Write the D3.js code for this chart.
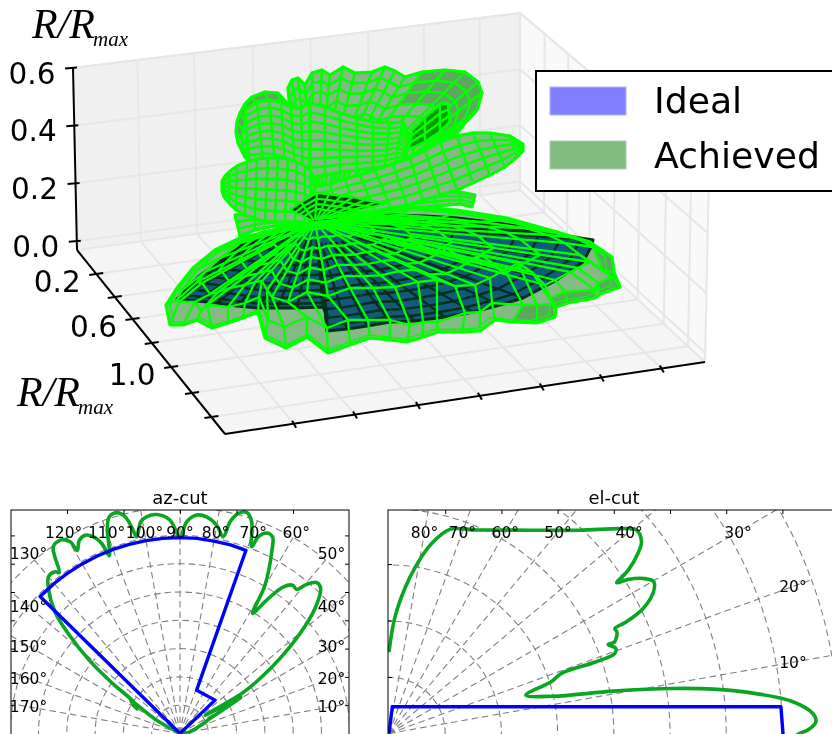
<!DOCTYPE html>
<html><head><meta charset="utf-8">
<script src="https://cdn.jsdelivr.net/npm/d3@7/dist/d3.min.js"></script>
<style>html,body{margin:0;padding:0;background:#fff}svg{display:block;filter:blur(0.35px)}text{font-family:"DejaVu Sans",sans-serif;fill:#000}</style>
</head><body><svg id="c" width="832" height="734"></svg>
<script>
// ---------- data ----------
const zTicks=[0,0.2,0.4,0.6];
const zLabels=["0.0","0.2","0.4","0.6"];
const rTicks=[0.2,0.4,0.6,0.8,1.0,1.2,1.4];
const rLabels=["0.2","","0.6","","1.0","",""];
const legendNames=["Ideal","Achieved"];
const azThetaLabels=[10,20,30,40,50,60,70,80,90,100,110,120,130,140,150,160,170];
const elThetaLabels=[10,20,30,40,50,60,70,80];
const ringValues=[1,2,3,4,5,6,7,8];
// az-cut [theta deg, r]
const azIdeal=[[43.6,0],[43.6,1.71],[69,1.64],[70.2,6.88],[75,6.9],[80,6.9],[85,6.92],[90,6.92],[95,6.92],[100,6.92],[105,6.92],[110,6.92],[115,6.92],[120,6.92],[125,6.92],[130,6.92],[135.6,6.92],[135.6,0]];
const azAchieved=[[135,0.05],[150.3,0.95],[146,2.1],[150.5,1.75],[145.8,1.99],[143.5,2.93],[141.2,4.08],[138.2,5.30],[135.8,6.16],[132.2,6.92],[130,7.23],[127.7,7.22],[126.9,7.11],[125.3,7.65],[124.2,7.97],[121.8,8.04],[119.8,7.81],[119.3,7.42],[117.5,7.70],[115.4,7.76],[113.8,7.60],[112.4,7.26],[111.7,6.76],[109.5,7.69],[108.1,8.05],[106,8.12],[104.2,7.90],[103.2,7.50],[102.4,7.12],[100.5,7.61],[98.7,7.75],[96.1,7.78],[92.7,7.55],[90,6.95],[88.2,7.48],[85.6,7.74],[83,7.71],[80,7.47],[77.6,7.12],[76.7,7.69],[75.2,8.04],[73.2,8.16],[71.3,7.90],[69,7.07],[68.3,7.48],[66.6,7.72],[64.8,7.68],[63.2,7.19],[60.2,6.04],[58.8,4.96],[57,5.62],[54.8,6.34],[52.8,6.58],[51,6.55],[49.9,6.85],[47.8,7.20],[45.9,7.14],[42.8,6.50],[39.8,5.52],[36.9,4.42],[34.5,3.43],[33,2.60],[36,1.1],[30.8,2.5],[27.5,1.34],[9.6,0.36],[0,0.06]];
// el-cut [theta deg, r]
const elIdeal=[[90,0],[83,0.48],[3.9,6.99],[0,7.01],[-1,7.01]];
const elAchieved=[[90,1.45],[87.2,2.05],[83.8,2.59],[80.8,3.03],[77.4,3.46],[73.4,3.79],[66.8,3.94],[55.3,4.40],[46.8,4.96],[41.6,5.49],[39.4,5.70],[37.2,5.64],[35.9,5.47],[34.3,5.15],[33.5,4.86],[32.8,5.06],[31.2,5.32],[29.8,5.43],[28.2,5.34],[26.2,5.04],[25.2,4.67],[24.9,4.43],[24,4.44],[22.1,4.33],[22.1,4.21],[20.6,4.31],[19.5,4.26],[19.1,3.90],[19.2,3.25],[17.7,3.03],[15.7,2.53],[12.8,2.99],[10.7,4.06],[9,5.12],[7.8,5.82],[6.2,6.57],[4.5,7.21],[2.7,7.55],[1.6,7.60],[0.5,7.46],[-0.1,7.28],[-1.4,7.13]];
// 3-D surfaces in view-plane coordinates [u,v] about the pattern's origin
const dishOuter=[[-149,-83],[-145,-103],[-132,-103],[-118,-98],[-103,-106],[-87,-101],[-72,-96],[-57,-90],[-50,-116],[-29,-126],[-8,-115],[13,-131],[35,-123],[55,-116],[75,-118],[92,-120],[108,-115],[123,-110],[147,-110],[165,-109],[180,-98],[197,-100],[222,-101],[240,-95],[241,-85],[253,-81],[280,-76],[285,-72],[305,-65],[299,-50],[297,-35],[275,-20],[242,-10],[192,4],[142,12],[95,15],[-25,-6],[-73,-15],[-100,-28],[-122,-46],[-138,-66]];
const dishLip=[[-138,-78],[-136,-80],[-120,-80],[-114,-89],[-108,-83],[-87,-85],[-70,-81],[-56,-75],[-47,-98],[-31,-105],[-8,-95],[12,-106],[33,-98],[53,-98],[75,-98],[95,-103],[108,-100],[122,-100],[150,-91],[165,-90],[177,-81],[208,-83],[222,-83],[238,-82],[235,-76],[250,-70],[280,-68],[283,-61],[297,-55],[288,-48],[278,-25],[262,-16],[235,-10],[188,2],[142,9],[95,13],[-25,-8],[-72,-18],[-97,-30],[-118,-48],[-133,-68]];
const dishMid=[[-118,-60],[-113,-61],[-105,-72],[-97,-70],[-85,-66],[-70,-63],[-60,-60],[-53,-59],[-48,-68],[-43,-75],[-27,-80],[-8,-70],[13,-74],[35,-66],[58,-66],[80,-65],[103,-60],[122,-58],[140,-64],[160,-63],[175,-56],[190,-48],[203,-41],[217,-50],[230,-63],[240,-58],[255,-50],[263,-46],[275,-40],[265,-33],[250,-21],[233,-13],[210,-6],[165,0],[125,4],[85,7],[-25,-4],[-53,-10],[-75,-21],[-95,-36],[-110,-50]];
const dishRingLevels=[0.1,0.22,0.36,0.5,0.65,0.82];
const idealRim=[[-138,-77],[-118,-79],[-98,-81],[-78,-84],[-57,-86],[-38,-86],[-18,-86],[8,-85],[12,-93],[12,-109],[32,-107],[52,-104],[75,-100],[100,-99],[130,-95],[158,-90],[185,-83],[208,-76],[240,-59],[268,-40],[277,-23],[278,-18],[240,-12],[208,-5],[175,0],[142,4],[110,6],[75,7],[0,0],[-67,-15],[-75,-25],[-96,-40],[-117,-55]];
const idealRingLevels=[0.35,0.5,0.62,0.72,0.8,0.88,0.95];
const upperRim=[[-15,9],[-67,62],[-70,65],[-77,79],[-79,90],[-78,100],[-75,109],[-70,118],[-63,125],[-50,130],[-37,129],[-28,119],[-25,112],[-27,134],[-23,142],[-17,144],[-10,137],[-3,149],[7,152],[15,147],[28,155],[40,149],[57,150],[70,155],[80,151],[90,145],[107,150],[130,152],[150,150],[163,140],[167,129],[162,112],[150,99],[143,90],[125,80],[95,64],[65,42],[25,5]];
const upperRingLevels=[0.12,0.25,0.38,0.5,0.6,0.7,0.78,0.86,0.93,1];
const leftLobeTop=[[-93,41],[-90,46],[-85,51],[-78,56],[-68,60],[-58,63],[-47,64],[-37,64],[-27,63],[-18,60],[-10,56],[-4,50],[0,40]];
const leftLobeBottom=[[-93,31],[-91,25],[-86,19],[-79,12],[-70,7],[-60,3],[-50,1],[-40,0],[-30,0],[-20,0],[-10,0],[-5,0],[0,0]];
const rightLobeTop=[[0,35],[15,38],[30,43],[45,47],[60,52],[78,58],[95,64],[110,72],[125,80],[142,86],[158,89],[175,89],[195,86],[208,78]];
const rightLobeBottom=[[0,0],[25,5],[42,8],[60,11],[76,14],[92,17],[108,22],[125,27],[142,32],[158,39],[175,47],[190,55],[202,65],[208,71]];
const midLobeTop=[[-5,119],[10,115],[25,109],[42,104],[58,100],[75,99],[88,100],[95,85],[92,70]];
const midLobeBottom=[[-5,45],[10,47],[25,50],[42,52],[58,54],[70,56],[80,59],[87,62],[90,64]];
const midLeftTop=[[-70,112],[-58,120],[-46,122],[-34,120],[-24,114],[-14,114],[-5,119]];
const midLeftBottom=[[-66,60],[-52,61],[-40,60],[-30,57],[-20,52],[-12,48],[-5,45]];
const innerLobeTop=[[97,92],[110,105],[125,118],[133,119]];
const innerLobeBottom=[[93,72],[110,80],[125,90],[135,100]];
const frillLeftTop=[[-80,7],[-60,8],[-40,8],[-20,8],[0,6]];
const frillLeftBottom=[[-75,-14],[-60,-8],[-40,-4],[-20,-2],[0,0]];
const frillRightTop=[[60,24],[90,27],[120,30],[145,30],[160,27]];
const frillRightBottom=[[60,8],[90,12],[120,16],[145,18],[157,15]];
const backRim=[[-25,12],[-14,20],[2,29],[14,28],[26,26],[38,25],[50,22],[62,20],[72,19]];

// ---------- page ----------
const svg=d3.select("#c");
const GREEN="#00ff00",FILL="#84ba84";
const SW=2.3;

// 3-D box
const A=[77,250],B=[225,434],C=[705,362],D=[520,190],AT=[73,68],DT=[520,13],CT=[709,173];
const zFrac=d3.scaleLinear().domain([0,0.6]).range([0.048,1]);
const yFrac=d3.scaleLinear().domain(rTicks).range([0.13,0.255,0.375,0.505,0.636,0.777,0.908]);
const xFrac=d3.scaleLinear().domain(rTicks).range([0.144,0.271,0.402,0.531,0.66,0.785,0.91]);
const lerp=(p,q,t)=>[p[0]+(q[0]-p[0])*t,p[1]+(q[1]-p[1])*t];
const g3=svg.append("g");
const poly=d3.line();
g3.append("path").attr("d",poly([A,D,DT,AT])+"Z").attr("fill","#f0f0f0");
g3.append("path").attr("d",poly([A,B,C,D])+"Z").attr("fill","#f5f5f5");
g3.append("path").attr("d",poly([D,C,CT,DT])+"Z").attr("fill","#f9f9f9");
const gridLine=(p,q,w)=>g3.append("line").attr("x1",p[0]).attr("y1",p[1]).attr("x2",q[0]).attr("y2",q[1]).attr("stroke","#e6e6e6").attr("stroke-width",w||2);
zTicks.forEach(z=>{const t=zFrac(z);
  const l=lerp(A,AT,t),b=lerp(D,DT,t),r=lerp(C,CT,t);
  gridLine(l,b);gridLine(b,r);});
rTicks.forEach(x=>{const t=xFrac(x);
  gridLine(lerp(A,D,t),lerp(AT,DT,t));
  gridLine(lerp(A,D,t),lerp(B,C,t));});
rTicks.forEach(y=>{const t=yFrac(y);
  gridLine(lerp(D,C,t),lerp(DT,CT,t));
  gridLine(lerp(A,B,t),lerp(D,C,t));});
gridLine(D,DT);gridLine(AT,DT);gridLine(DT,CT);gridLine(D,C);gridLine(A,D);gridLine(C,CT);

// axes
const axisLine=(p,q)=>g3.append("line").attr("x1",p[0]).attr("y1",p[1]).attr("x2",q[0]).attr("y2",q[1]).attr("stroke","#000").attr("stroke-width",2);
axisLine(AT,A);axisLine(A,B);axisLine(B,C);
const tickText=(x,y,s)=>g3.append("text").attr("x",x).attr("y",y).attr("dy",".36em").attr("text-anchor","middle").attr("font-size",29.5).text(s);
zTicks.forEach((z,i)=>{const p=lerp(A,AT,zFrac(z));
  axisLine([p[0]-8,p[1]+0.5],[p[0]+4,p[1]-0.5]);
  tickText(p[0]-41,p[1]+5,zLabels[i]);});
rTicks.forEach((y,i)=>{const p=lerp(A,B,yFrac(y));
  axisLine([p[0]-7,p[1]+1],[p[0]+7,p[1]-1]);
  if(rLabels[i]) tickText(p[0]-39,p[1]+7,rLabels[i]);});
rTicks.forEach(x=>{const p=lerp(B,C,xFrac(x));axisLine([p[0]-2,p[1]-3],[p[0]+2,p[1]+4]);});

// axis titles
const title3=(x,y,sub)=>{
  g3.append("text").attr("x",x).attr("y",y).style("font-family",'"Liberation Serif",serif').style("font-style","italic").attr("font-size",42).text("R/R");
  g3.append("text").attr("x",x+61).attr("y",y+8).style("font-family",'"Liberation Serif",serif').style("font-style","italic").attr("font-size",21).text(sub);
};
title3(32,38,"max");title3(17,406,"max");

// view plane scales
const uS=d3.scaleLinear().domain([-315,517]).range([0,832]);
const vS=d3.scaleLinear().domain([-512,222]).range([734,0]);
const pl=d3.line().x(d=>uS(d[0])).y(d=>vS(d[1]));
const g=svg.append("g").attr("stroke-linejoin","round");
const scale=(rim,f)=>rim.map(d=>[d[0]*f,d[1]*f]);
const quadPath=(a,b,c,e,fill,w)=>g.append("path").attr("d",pl([a,b,c,e])+"Z").attr("fill",fill).attr("stroke",GREEN).attr("stroke-width",w||SW);
const mix=(p,q,t)=>[p[0]+(q[0]-p[0])*t,p[1]+(q[1]-p[1])*t];
function patch(top,bot,rows,fill){
  for(let i=0;i<top.length-1;i++)for(let j=0;j<rows;j++){
    const t0=j/rows,t1=(j+1)/rows;
    quadPath(mix(top[i],bot[i],t0),mix(top[i+1],bot[i+1],t0),mix(top[i+1],bot[i+1],t1),mix(top[i],bot[i],t1),fill);
  }
  const out=top.concat(bot.slice().reverse());
  g.append("path").attr("d",pl(out)+"Z").attr("fill","none").attr("stroke",GREEN).attr("stroke-width",3);
}
// upper shell
const upperRings=upperRingLevels.map(f=>scale(upperRim,f));
for(let j=2;j<upperRings.length;j++){
  const a=upperRings[j-1],b=upperRings[j];
  for(let i=0;i<upperRim.length-1;i++){
    const right=i>=26, outer=j>=7;
    quadPath(a[i],a[i+1],b[i+1],b[i],right&&outer?"#5ca85c":(i>=4&&i<=11&&j>=9?"#5ca85c":FILL));
  }
}
g.append("path").attr("d",pl(upperRim)).attr("fill","none").attr("stroke",GREEN).attr("stroke-width",3.2);
patch(frillLeftTop,frillLeftBottom,3,FILL);
patch(frillRightTop,frillRightBottom,3,FILL);
patch(innerLobeTop,innerLobeBottom,3,"#0a9a0a");
patch(midLeftTop,midLeftBottom,8,FILL);
patch(midLobeTop,midLobeBottom,8,FILL);
patch(leftLobeTop,leftLobeBottom,6,FILL);
patch(rightLobeTop,rightLobeBottom,5,FILL);

// dark back of the ideal surface
const backRings=[0.45,0.62,0.8,1].map(f=>scale(backRim,f));
g.append("path").attr("d",pl(backRim.concat([[0,0]]))+"Z").attr("fill","#003a10");
backRings.forEach(r=>g.append("path").attr("d",pl(r)).attr("fill","none").attr("stroke",GREEN).attr("stroke-width",SW));
backRim.forEach(d=>g.append("path").attr("d",pl([[0,0],d])).attr("stroke",GREEN).attr("stroke-width",SW));

// dish: band, ideal surface, achieved mesh
g.append("path").attr("d",pl(dishOuter)+"Z").attr("fill",FILL);
[21,22,24,25,27,28,29].forEach(i=>{
  g.append("path").attr("d",pl([dishLip[i],dishLip[i+1],dishOuter[i+1],dishOuter[i]])+"Z").attr("fill","#5ca85c");
});
g.append("path").attr("d",pl(idealRim)+"Z").attr("fill","#125a7c").attr("stroke","#04301a").attr("stroke-width",3).attr("stroke-linejoin","round");
idealRingLevels.forEach(f=>g.append("path").attr("d",pl(scale(idealRim,f))+"Z").attr("fill","none").attr("stroke","#04301a").attr("stroke-width",2.4));
idealRim.forEach(d=>g.append("path").attr("d",pl([scale([d],0.2)[0],d])).attr("stroke","#04301a").attr("stroke-width",2.4));
const dishRings=dishRingLevels.map(f=>scale(dishMid,f)).concat([dishMid,dishLip,scale(dishOuter,0.975),dishOuter]);
dishRings.forEach((r,j)=>g.append("path").attr("d",pl(r)+"Z").attr("fill","none").attr("stroke",GREEN).attr("stroke-width",j==dishRings.length-1?3.2:(j==dishRings.length-2?1.4:SW)));
dishOuter.forEach((d,i)=>{
  const hub=i%2?scale([dishMid[i]],0.36)[0]:[0,0];
  g.append("path").attr("d",pl([hub,dishMid[i],dishLip[i],d])).attr("fill","none").attr("stroke",GREEN).attr("stroke-width",SW);
});

// legend
const lg=svg.append("g");
lg.append("rect").attr("x",536).attr("y",71).attr("width",320).attr("height",120).attr("fill","#fff").attr("stroke","#000").attr("stroke-width",2);
const swatch=["#8080ff","#80bb80"],swEdge=["#b0b0ff","#b0d0b0"];
legendNames.forEach((n,i)=>{
  lg.append("rect").attr("x",550).attr("y",87+54*i).attr("width",76).attr("height",28).attr("fill",swatch[i]).attr("stroke",swEdge[i]);
  lg.append("text").attr("x",654).attr("y",113+55*i).attr("font-size",36.2).text(n);
});

// polar panels
function polar(cfg){
  const p=svg.append("g");
  const id="clip"+cfg.id;
  svg.append("defs").append("clipPath").attr("id",id).append("rect").attr("x",cfg.x0).attr("y",cfg.y0).attr("width",cfg.x1-cfg.x0).attr("height",cfg.y1-cfg.y0);
  const r=d3.scaleLinear().domain([0,1]).range([0,cfg.step]);
  const inner=p.append("g").attr("clip-path",`url(#${id})`).append("g").attr("transform",`translate(${cfg.ox},${cfg.oy})`);
  const dash="6.5 4";
  ringValues.forEach(v=>inner.append("circle").attr("r",r(v)).attr("fill","none").attr("stroke","#808080").attr("stroke-width",1.1).attr("stroke-dasharray",dash));
  const rad=t=>(90-t)*Math.PI/180;
  const lr=d3.lineRadial().angle(d=>rad(d[0])).radius(d=>r(d[1]));
  cfg.labels.forEach(t=>inner.append("path").attr("d",lr([[t,0],[t,8]])).attr("fill","none").attr("stroke","#808080").attr("stroke-width",1.1).attr("stroke-dasharray",dash));
  const curve=lr.curve(d3.curveCatmullRom.alpha(0.5));
  inner.append("path").attr("d",curve(cfg.achieved)).attr("fill","none").attr("stroke","#0aa522").attr("stroke-width",3.6).attr("stroke-linejoin","round");
  lr.curve(d3.curveLinear);
  inner.append("path").attr("d",lr(cfg.ideal)).attr("fill","none").attr("stroke","#0000ff").attr("stroke-width",3.4).attr("stroke-linejoin","round");
  const px=d3.scaleLinear().domain([-8,8]).range([cfg.ox-8*cfg.tx,cfg.ox+8*cfg.tx]);
  const py=d3.scaleLinear().domain([0,10]).range([cfg.oy,cfg.oy-10*cfg.ty]);
  const xv=d3.range(-8,9).filter(d=>px(d)>cfg.x0+1&&px(d)<cfg.x1-1);
  const yv=d3.range(1,10).filter(d=>py(d)>cfg.y0+1);
  const ax=(a,x,y)=>{const s=p.append("g").attr("transform",`translate(${x},${y})`).call(a.tickFormat("").tickSizeOuter(0));
    s.selectAll("path").remove();s.selectAll("line").attr("stroke","#000").attr("stroke-width",1);};
  ax(d3.axisTop(px).tickValues(xv).tickSize(-4),0,cfg.y0);
  ax(d3.axisBottom(px).tickValues(xv).tickSize(-4),0,cfg.y1);
  ax(d3.axisLeft(py).tickValues(yv).tickSize(-4),cfg.x0,0);
  ax(d3.axisRight(py).tickValues(yv).tickSize(-4),cfg.x1,0);
  p.append("rect").attr("x",cfg.x0).attr("y",cfg.y0).attr("width",cfg.x1-cfg.x0).attr("height",cfg.y1-cfg.y0).attr("fill","none").attr("stroke","#000").attr("stroke-width",1);
  cfg.labels.forEach(t=>{
    const a=t*Math.PI/180,c=Math.cos(a),s=Math.sin(a);
    const k=Math.min(cfg.bw/Math.max(Math.abs(c),1e-6),cfg.bh/Math.max(s,1e-6));
    p.append("text").attr("x",cfg.ox+k*c).attr("y",cfg.oy-k*s).attr("dy",".36em").attr("text-anchor","middle").attr("font-size",15.5).text(t+"°");
  });
  p.append("text").attr("x",cfg.tcx).attr("y",504).attr("text-anchor","middle").attr("font-size",18).text(cfg.title);
}
polar({id:"a",x0:11,y0:510,x1:349,y1:760,ox:180,oy:733.5,step:28.3,tx:56.5,ty:28.3,labels:azThetaLabels,ideal:azIdeal,achieved:azAchieved,bw:151.5,bh:201.5,tcx:180,title:"az-cut"});
polar({id:"e",x0:388,y0:510,x1:840,y1:760,ox:389,oy:733.5,step:56.2,tx:56.2,ty:56.5,labels:elThetaLabels,ideal:elIdeal,achieved:elAchieved,bw:404,bh:201.5,tcx:614,title:"el-cut"});
</script></body></html>
